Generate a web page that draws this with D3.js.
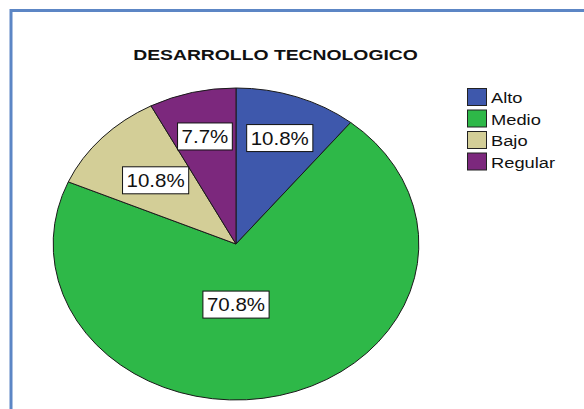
<!DOCTYPE html>
<html><head><meta charset="utf-8">
<script src="https://cdn.jsdelivr.net/npm/d3@7"></script>
<style>html,body{margin:0;padding:0;background:#fff;}svg{display:block;}</style>
</head><body>
<svg id="c" width="584" height="409"></svg>
<script>
const title = "DESARROLLO TECNOLOGICO";
const categories = ["Alto", "Medio", "Bajo", "Regular"];
const values = [10.8, 70.8, 10.8, 7.7];
const labels = ["10.8%", "70.8%", "10.8%", "7.7%"];
const colors = ["#3E58AC", "#2EB848", "#D3CE97", "#7C287D"];

const svg = d3.select("#c");
const FONT = "'Liberation Sans', Arial, Helvetica, sans-serif";
const SX = 1.14; // horizontal stretch of the original chart labels

// frame
svg.append("path")
  .attr("d", "M11,409 L11,10.5 L584,10.5")
  .attr("fill", "none").attr("stroke", "#5C86C5").attr("stroke-width", 3);

// title
svg.append("text")
  .attr("transform", "translate(275.5,60) scale(1.29,1)")
  .attr("text-anchor", "middle")
  .attr("font-family", FONT).attr("font-size", 15).attr("font-weight", "bold")
  .attr("fill", "#111").text(title);

// pie
const cx = 236, cy = 244, R = 156, stretch = 1.172;
const pie = d3.pie().sort(null).value(d => d)(values);
const arc = d3.arc().innerRadius(0).outerRadius(R);
const g = svg.append("g").attr("transform", `translate(${cx},${cy}) scale(${stretch},1)`);
g.selectAll("path.slice").data(pie).enter().append("path")
  .attr("class", "slice")
  .attr("d", arc)
  .attr("fill", (d, i) => colors[i])
  .attr("stroke", "#1a1a1a").attr("stroke-width", 1)
  .attr("vector-effect", "non-scaling-stroke");

// labels
const labelR = [0.72, 0.40, 0.60, 0.71];
const lg = svg.append("g");
pie.forEach((d, i) => {
  const r = labelR[i] * R;
  const [px, py] = d3.arc().innerRadius(r).outerRadius(r).centroid(d);
  let x = cx + px * stretch, y = cy + py;
  if (i === 1) x = cx; // centre label of large slice
  const t = lg.append("text")
    .attr("transform", `translate(${x},${y + 6.5}) scale(${SX},1)`)
    .attr("text-anchor", "middle")
    .attr("font-family", FONT).attr("font-size", 18)
    .attr("fill", "#111").text(labels[i]);
  const w = t.node().getBBox().width * SX;
  lg.insert("rect", "text")
    .attr("x", x - w / 2 - 4).attr("y", y - 13.5)
    .attr("width", w + 8).attr("height", 27)
    .attr("fill", "#fff").attr("stroke", "#111").attr("stroke-width", 1);
});

// legend
const leg = svg.append("g");
categories.forEach((c, i) => {
  const y = 88 + i * 21.5;
  leg.append("rect").attr("x", 467.5).attr("y", y + 0.5).attr("width", 19).attr("height", 17)
    .attr("fill", colors[i]).attr("stroke", "#222").attr("stroke-width", 1);
  leg.append("text")
    .attr("transform", `translate(491,${y + 15}) scale(1.22,1)`)
    .attr("font-family", FONT).attr("font-size", 15)
    .attr("fill", "#111").text(c);
});
</script>
</body></html>
